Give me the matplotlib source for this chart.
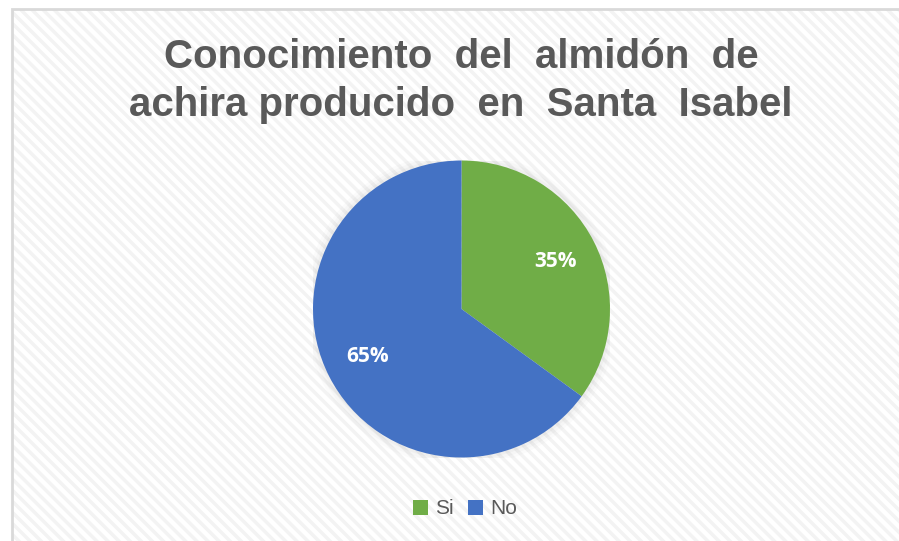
import matplotlib.pyplot as plt
from matplotlib.patches import Rectangle, Circle

# --- DATA ---
labels = ["Si", "No"]
values = [35, 65]
colors = ["#70AD47", "#4472C4"]
title_lines = ["Conocimiento  del  almidón  de", "achira producido  en  Santa  Isabel"]

W, H = 899, 541
fig = plt.figure(figsize=(W / 100, H / 100), dpi=100)
fig.patch.set_facecolor("white")

# chart area: light diagonal texture + thin grey border (left/top visible)
plt.rcParams["hatch.linewidth"] = 2.5
bg = Rectangle((11.5 / W, -0.05), 1.1, (H - 8.5) / H + 0.05, transform=fig.transFigure,
               facecolor="white", edgecolor="#f3f3f3", hatch="\\\\\\", lw=0, zorder=-2)
fig.patches.append(bg)
border = Rectangle((11.5 / W, -0.05), 1.1, (H - 8.5) / H + 0.05, transform=fig.transFigure,
                   facecolor="none", edgecolor="#d9d9d9", lw=2, zorder=-1)
fig.patches.append(border)

# pie axes
cx, cy, r = 461.5, H - 309, 148.5
ax = fig.add_axes([(cx - r) / W, (cy - r) / H, 2 * r / W, 2 * r / H], zorder=2)
ax.patch.set_visible(False)
ax.axis("off")

# soft shadow around the pie
for k, a in [(1.06, 0.03), (1.04, 0.04), (1.02, 0.05)]:
    ax.add_patch(Circle((0, 0.0), k, color="#808080", alpha=a, lw=0, zorder=0))

wedges, texts, autotexts = ax.pie(
    values, colors=colors, startangle=90, counterclock=False, radius=1,
    autopct="%1.0f%%", pctdistance=0.71,
    textprops=dict(color="white", fontsize=15, fontweight="bold", family="Open Sans"),
    wedgeprops=dict(linewidth=0),
)
ax.set_xlim(-1, 1)
ax.set_ylim(-1, 1)
ax.set_aspect("equal")

for txt, y in zip(title_lines, [57, 105]):
    fig.text(461 / W, 1 - y / H, txt, ha="center", va="center", fontsize=29,
             fontweight="bold", color="#595959", family="Liberation Sans")

leg = fig.legend(wedges, labels, loc="center", bbox_to_anchor=(465 / W, 1 - 509 / H),
                 ncol=2, frameon=False, handlelength=0.7, handleheight=0.7,
                 handletextpad=0.35, columnspacing=0.7,
                 prop=dict(family="Liberation Sans", size=15))
for t in leg.get_texts():
    t.set_color("#595959")

fig.savefig("out.png", dpi=100)
